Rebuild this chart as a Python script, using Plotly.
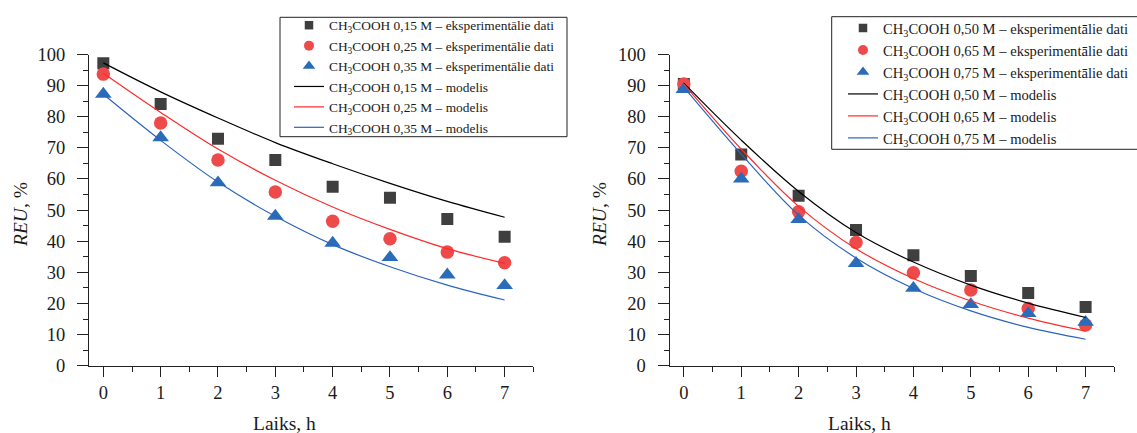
import plotly.graph_objects as go

# Time axis (hours)
hours = [0, 1, 2, 3, 4, 5, 6, 7]

# Left panel: experimental REU, %
exp_015 = [97.2, 84.1, 72.9, 66.1, 57.5, 54.0, 47.1, 41.4]
exp_025 = [93.7, 78.0, 66.1, 55.8, 46.4, 40.8, 36.5, 33.1]
exp_035 = [87.3, 73.3, 58.8, 48.1, 39.4, 34.8, 29.2, 25.8]
# Left panel: model curves
mod_015 = [97.3, 88.0, 79.6, 71.7, 64.9, 58.6, 52.8, 47.7]
mod_025 = [94.0, 81.4, 69.6, 59.6, 51.0, 43.8, 37.6, 32.9]
mod_035 = [87.2, 72.4, 59.0, 48.0, 38.9, 31.8, 25.9, 21.1]

# Right panel: experimental REU, %
exp_050 = [90.5, 67.9, 54.6, 43.6, 35.5, 28.8, 23.4, 18.9]
exp_065 = [90.5, 62.5, 49.5, 39.6, 29.9, 24.3, 18.4, 13.1]
exp_075 = [88.8, 60.0, 47.0, 32.9, 24.9, 19.7, 16.8, 14.0]
# Right panel: model curves
mod_050 = [90.8, 72.5, 56.0, 42.8, 33.3, 25.9, 20.1, 15.5]
mod_065 = [90.5, 69.6, 51.2, 37.6, 28.0, 20.8, 15.3, 11.1]
mod_075 = [89.5, 68.0, 48.4, 34.6, 24.8, 17.6, 12.3, 8.5]

left_conc = ["0,15", "0,25", "0,35"]
right_conc = ["0,50", "0,65", "0,75"]

W, H = 1137, 433
FONT = "Liberation Serif, Times New Roman, serif"
TXT = "#1a1a1a"

SQ_C, CI_C, TR_C = "#3f3f3f", "#ef4a4a", "#2b6cb8"
L_BLACK, L_RED, L_BLUE = "#000000", "#ff2a2a", "#2a64c0"

symbols = ["square", "circle", "triangle-up"]
mcolors = [SQ_C, CI_C, TR_C]
msizes = [12, 13.5, 14.5]
lsizes = [8.5, 10, 11]
lcolors = [L_BLACK, L_RED, L_BLUE]


def px(x):
    return x / W


def py(y):
    return 1 - y / H


fig = go.Figure()

panels = [
    ("x", "y", "legend", left_conc, [exp_015, exp_025, exp_035], [mod_015, mod_025, mod_035]),
    ("x2", "y2", "legend2", right_conc, [exp_050, exp_065, exp_075], [mod_050, mod_065, mod_075]),
]

for xa, ya, leg, conc, exps, mods in panels:
    # measured points (drawn without their own legend entries)
    for vals, sym, col, sz in zip(exps, symbols, mcolors, msizes):
        fig.add_trace(go.Scatter(
            x=hours, y=vals, xaxis=xa, yaxis=ya, mode="markers",
            marker=dict(symbol=sym, color=col, size=sz, line=dict(width=0)),
            showlegend=False, hoverinfo="skip"))
    # model curves
    for vals, col in zip(mods, lcolors):
        fig.add_trace(go.Scatter(
            x=hours, y=vals, xaxis=xa, yaxis=ya, mode="lines",
            line=dict(color=col, width=1.2, shape="spline", smoothing=1.0),
            showlegend=False, hoverinfo="skip"))
    # legend entries
    for c, sym, col, sz in zip(conc, symbols, mcolors, lsizes):
        fig.add_trace(go.Scatter(
            x=[None], y=[None], xaxis=xa, yaxis=ya, mode="markers",
            marker=dict(symbol=sym, color=col, size=sz, line=dict(width=0)),
            name=f"CH<sub>3</sub>COOH {c} M – eksperimentālie dati", legend=leg))
    for c, col in zip(conc, lcolors):
        fig.add_trace(go.Scatter(
            x=[None], y=[None], xaxis=xa, yaxis=ya, mode="lines",
            line=dict(color=col, width=1.2),
            name=f"CH<sub>3</sub>COOH {c} M – modelis", legend=leg))

tickfont = dict(family=FONT, size=18.5, color=TXT)

xcommon = dict(
    range=[-0.25, 7.5], tickvals=hours, ticks="outside", ticklen=10, tickwidth=1,
    tickcolor="#222", showline=True, linecolor="#222", linewidth=1,
    showgrid=False, zeroline=False, tickfont=tickfont, ticklabelstandoff=0,
    minor=dict(dtick=0.5, ticks="outside", ticklen=5, tickwidth=1, tickcolor="#222", showgrid=False),
)
ycommon = dict(
    range=[0, 100], dtick=10, tick0=0, ticks="outside", ticklen=11, tickwidth=1,
    tickcolor="#222", showline=True, linecolor="#222", linewidth=1,
    showgrid=False, zeroline=False, tickfont=tickfont, ticklabelstandoff=8,
    minor=dict(dtick=5, ticks="outside", ticklen=5, tickwidth=1, tickcolor="#222", showgrid=False),
)

ydom = [py(365.7), py(54.5)]
title_font = dict(size=19.5, family=FONT, color=TXT)


def label(text, x, y, angle=0):
    return dict(text=text, x=px(x), y=py(y), xref="paper", yref="paper",
                xanchor="center", yanchor="middle", showarrow=False,
                textangle=angle, font=title_font)


fig.update_layout(
    width=W, height=H,
    margin=dict(l=0, r=0, t=0, b=0, autoexpand=False),
    paper_bgcolor="white", plot_bgcolor="white",
    font=dict(family=FONT, color=TXT),
    xaxis=dict(domain=[px(89), px(533.3)], anchor="y", **xcommon),
    yaxis=dict(domain=ydom, anchor="x", **ycommon),
    xaxis2=dict(domain=[px(669.5), px(1114.3)], anchor="y2", **xcommon),
    yaxis2=dict(domain=ydom, anchor="x2", **ycommon),
    legend=dict(x=px(289), y=py(10), xanchor="left", yanchor="top",
                bgcolor="rgba(0,0,0,0)", borderwidth=0,
                font=dict(family=FONT, size=13.4, color=TXT)),
    legend2=dict(x=px(843), y=py(12), xanchor="left", yanchor="top",
                 bgcolor="rgba(0,0,0,0)", borderwidth=0,
                 font=dict(family=FONT, size=14.6, color=TXT)),
    shapes=[
        dict(type="rect", xref="paper", yref="paper",
             x0=px(280), x1=px(567), y0=py(136.7), y1=py(17.3),
             line=dict(color="#222", width=1)),
        dict(type="rect", xref="paper", yref="paper",
             x0=px(831.7), x1=1.05, y0=py(149.3), y1=py(16.7),
             line=dict(color="#222", width=1)),
    ],
    annotations=[
        label("Laiks, h", 284.4, 423),
        label("Laiks, h", 859.7, 423),
        label("<i>REU</i>, %", 20, 215, -90),
        label("<i>REU</i>, %", 599, 215, -90),
    ],
)

fig.write_html("out.html")
